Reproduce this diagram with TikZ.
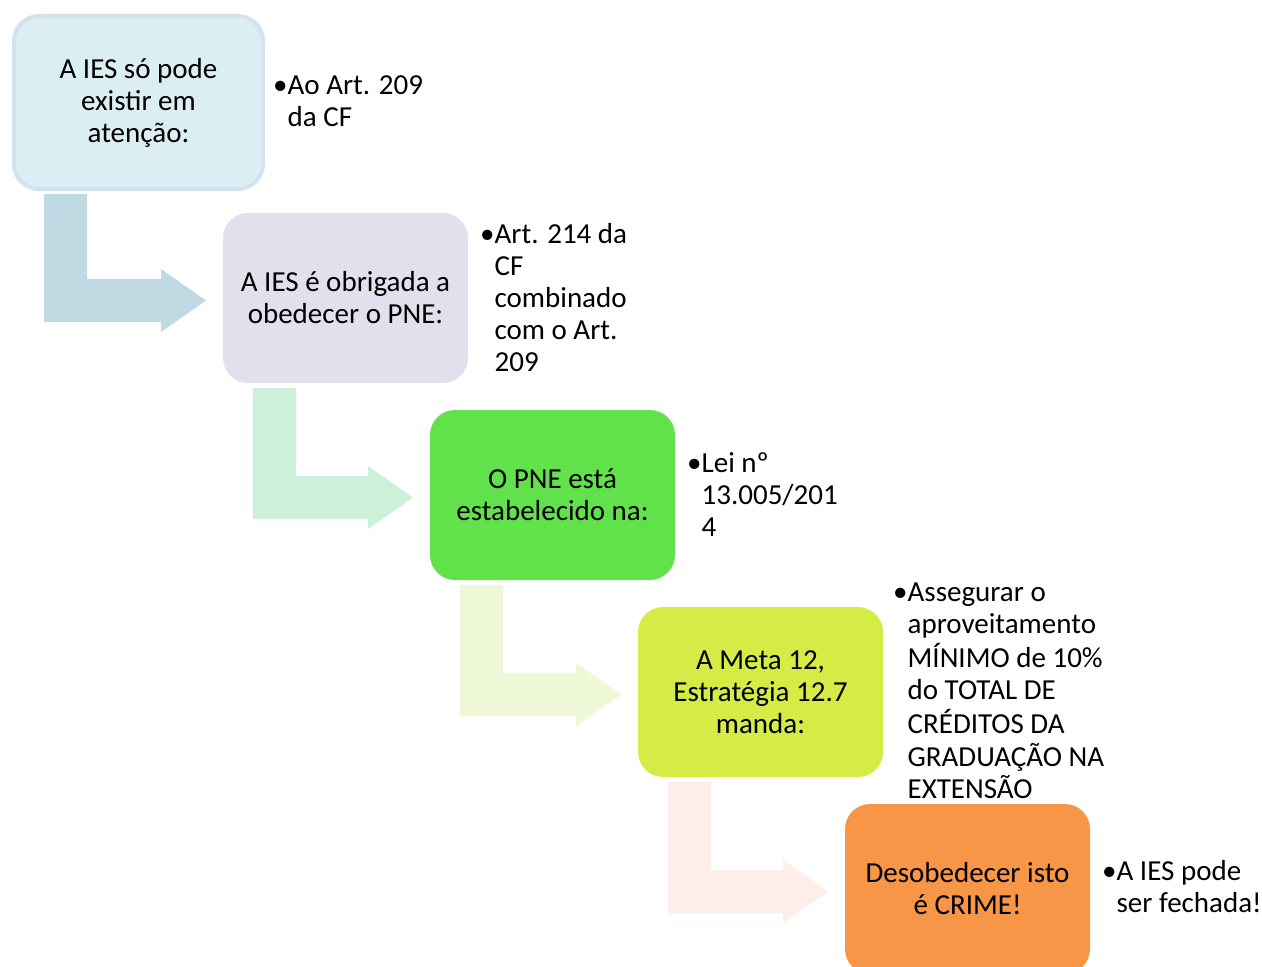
\documentclass[tikz,border=0pt]{standalone}
\usepackage{fontspec}
\setmainfont{Carlito}
\usetikzlibrary{calc}
\definecolor{boxa}{HTML}{DBEEF3}
\definecolor{boxaline}{HTML}{D4E2F0}
\definecolor{boxb}{HTML}{E4DFEC}
\definecolor{boxc}{HTML}{62E24A}
\definecolor{boxd}{HTML}{D6EC46}
\definecolor{boxe}{HTML}{F79646}
\definecolor{arr1}{HTML}{C0DAE3}
\definecolor{arr2}{HTML}{CCF0D8}
\definecolor{arr3}{HTML}{EFF8D6}
\definecolor{arr4}{HTML}{FDEEE9}
\newcommand{\itm}[1]{\begin{tabular}{@{}l@{}l@{}}•&#1\end{tabular}}
\begin{document}
\begin{tikzpicture}[
  x=1pt, y=-1pt,
  box/.style={rectangle, rounded corners=25, minimum width=245, minimum height=170,
    align=center, inner sep=0, outer sep=0, font=\fontsize{29}{32}\selectfont},
  note/.style={anchor=west, inner sep=0, xshift=12, yshift=-3, font=\fontsize{29}{32}\selectfont}]
\useasboundingbox (0,0) rectangle (1262,967);
\node [box, fill=boxa, draw=boxaline, line width=4, minimum width=249, minimum height=173]
  (b1) at (138.5,102.5) {A IES só pode\\existir em\\atenção:};
\node [box, fill=boxb] (b2) at (345.5,298) {A IES é obrigada a\\obedecer o PNE:};
\node [box, fill=boxc] (b3) at (552.5,495) {O PNE está\\estabelecido na:};
\node [box, fill=boxd] (b4) at (760.5,692) {A Meta 12,\\Estratégia 12.7\\manda:};
\node [box, fill=boxe] (b5) at (967.5,889) {Desobedecer isto\\é CRIME!};
\node [note, xshift=-2, yshift=1] (n1) at (b1.east) {\itm{Ao Art. 209\\ &da CF}};
\node [note] (n2) at (b2.east) {\itm{Art. 214 da\\ &CF\\ &combinado\\ &com o Art.\\ &209}};
\node [note] (n3) at (b3.east) {\itm{Lei nº\\ &13.005/201\\ &4}};
\node [note, xshift=-2, yshift=1] (n4) at (b4.east) {\itm{Assegurar o\\ &aproveitamento\\ &MÍNIMO de 10\%\\
  &do TOTAL DE\\ &CRÉDITOS DA\\ &GRADUAÇÃO NA\\ &EXTENSÃO}};
\node [note, yshift=2] (n5) at (b5.east) {\itm{A IES pode\\ &ser fechada!}};
\foreach \i [evaluate={\j=int(\i+1);}] in {1,...,4}{
  \coordinate (t\i) at ($(b\i.south west)+(30,5)$);
  \coordinate (h\i) at ($(b\j.west)+(-17,2.5)$);
  \path [fill=arr\i] (t\i) -- ++(43,0) |- ($(h\i)+(-45,-21.5)$) --
    ($(h\i)+(-45,-31.5)$) -- (h\i) -- ($(h\i)+(-45,31.5)$) --
    ($(h\i)+(-45,21.5)$) -| (t\i) -- cycle;
}
\end{tikzpicture}
\end{document}
